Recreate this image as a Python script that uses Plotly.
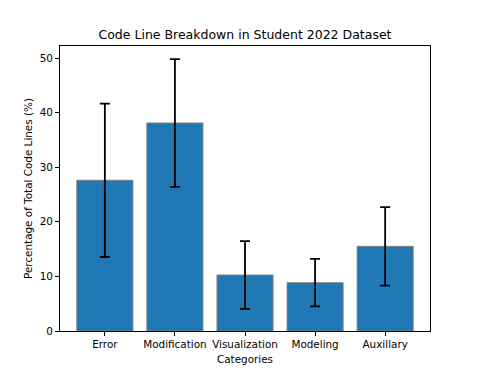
import plotly.graph_objects as go

categories = ["Error", "Modification", "Visualization", "Modeling", "Auxillary"]
percentages = [27.6, 38.1, 10.25, 8.85, 15.5]
std_devs = [14.05, 11.7, 6.2, 4.35, 7.2]

# page body has an 8px default margin, so the figure is 8px smaller
W, H = 470, 364

fig = go.Figure()

fig.add_trace(go.Bar(
    x=list(range(len(categories))),
    y=percentages,
    width=0.8,
    marker=dict(color="#1f77b4", line=dict(color="grey", width=1)),
    error_y=dict(type="data", array=std_devs, visible=True,
                 color="black", thickness=1.8, width=5),
))

fig.update_layout(
    width=W, height=H,
    paper_bgcolor="white", plot_bgcolor="white",
    font=dict(family="DejaVu Sans", size=10.4, color="black"),
    margin=dict(l=52, r=48, t=38, b=41),
    showlegend=False,
    title=dict(text="Code Line Breakdown in Student 2022 Dataset",
               x=237 / W, xanchor="center", y=1 - 26.5 / H, yanchor="middle",
               font=dict(size=12.5)),
)

fig.update_xaxes(
    range=[-0.64, 4.64],
    tickmode="array", tickvals=list(range(len(categories))), ticktext=categories,
    ticks="outside", ticklen=4, tickcolor="black",
    showline=True, linecolor="black", linewidth=1, mirror=True,
    showgrid=False, zeroline=False, automargin=False,
    title=dict(text="Categories", standoff=6, font=dict(size=10.4)),
)
fig.update_yaxes(
    range=[0, 52.2],
    tickvals=[0, 10, 20, 30, 40, 50],
    ticks="outside", ticklen=4, tickcolor="black",
    showline=True, linecolor="black", linewidth=1, mirror=True,
    showgrid=False, zeroline=False, automargin=False,
    title=dict(text="Percentage of Total Code Lines (%)", standoff=5, font=dict(size=10.4)),
)

fig.write_html("out.html")
